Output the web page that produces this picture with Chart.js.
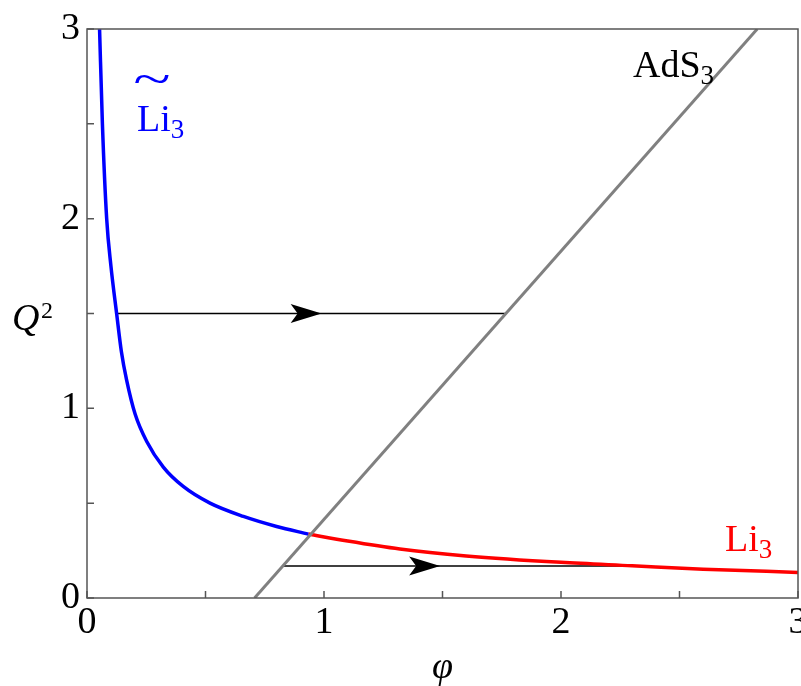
<!DOCTYPE html>
<html>
<head>
<meta charset="utf-8">
<script src="https://cdn.jsdelivr.net/npm/chart.js@4.4.1/dist/chart.umd.min.js"></script>
<style>
  html, body { margin: 0; padding: 0; background: #fff; }
  #wrap { width: 801px; height: 686px; }
</style>
</head>
<body>
<div id="wrap"><canvas id="chart" width="801" height="686"></canvas></div>
<script>
// values
var phiBlue = [0.053, 0.065, 0.083, 0.101, 0.125, 0.145, 0.167, 0.203, 0.252, 0.322, 0.406, 0.519, 0.66, 0.80, 0.934];
var q2Blue  = [3.0,   2.5,   2.0,   1.75,  1.5,   1.3,   1.15,  0.97,  0.825, 0.69,  0.588, 0.5,   0.43, 0.377, 0.337];
var phiRed  = [0.934, 1.1,  1.32,  1.6,   2.0,   2.3,  2.6,   3.0];
var q2Red   = [0.337, 0.30, 0.258, 0.222, 0.188, 0.17, 0.152, 0.135];
var phiAdS  = [0.707, 2.828];
var q2AdS   = [0, 3];
// flow arrows: start phi, end phi, Q^2, tip phi
var arrowFrom = [0.125, 0.827];
var arrowTo   = [1.768, 2.30];
var arrowQ2   = [1.5, 0.169];
var arrowTip  = [0.99, 1.49];
var xTicks = [0, 1, 2, 3];
var yTicks = [0, 1, 2, 3];

var FONT = "'Liberation Serif', serif";

function pts(xs, ys) {
    var out = [];
    for (var i = 0; i < xs.length; i++) out.push({x: xs[i], y: ys[i]});
    return out;
}

var datasets = [
    {data: pts(phiAdS, q2AdS), borderColor: '#808080', borderWidth: 3},
    {data: pts(phiBlue, q2Blue), borderColor: '#0000ff', borderWidth: 3.5, cubicInterpolationMode: 'monotone'},
    {data: pts(phiRed, q2Red), borderColor: '#ff0000', borderWidth: 3.5, cubicInterpolationMode: 'monotone'}
];
for (var i = 0; i < arrowFrom.length; i++) {
    datasets.push({data: [{x: arrowFrom[i], y: arrowQ2[i]}, {x: arrowTo[i], y: arrowQ2[i]}], borderColor: '#000', borderWidth: 1.6});
}
datasets.forEach(function (d) { d.showLine = true; d.pointRadius = 0; d.fill = false; });

function textSub(ctx, main, sub, x, y, color) {
    ctx.fillStyle = color;
    ctx.textAlign = 'left';
    ctx.textBaseline = 'alphabetic';
    ctx.font = '38px ' + FONT;
    ctx.fillText(main, x, y);
    var w = ctx.measureText(main).width;
    ctx.font = '27px ' + FONT;
    ctx.fillText(sub, x + w, y + 7);
}

var decor = {
    id: 'decor',
    afterDatasetsDraw: function (chart) {
        var ctx = chart.ctx, a = chart.chartArea;
        var xs = chart.scales.x, ys = chart.scales.y;
        ctx.save();
        // frame
        ctx.strokeStyle = '#555';
        ctx.lineWidth = 1.5;
        ctx.strokeRect(a.left, a.top, a.right - a.left, a.bottom - a.top);
        // inward ticks every 0.5
        ctx.beginPath();
        for (var v = 0; v <= 3; v += 0.5) {
            var px = xs.getPixelForValue(v);
            ctx.moveTo(px, a.bottom); ctx.lineTo(px, a.bottom - 7);
            var py = ys.getPixelForValue(v);
            ctx.moveTo(a.left, py); ctx.lineTo(a.left + 7, py);
        }
        ctx.stroke();
        // arrow heads
        ctx.fillStyle = '#000';
        for (var i = 0; i < arrowTip.length; i++) {
            var tx = xs.getPixelForValue(arrowTip[i]);
            var ty = ys.getPixelForValue(arrowQ2[i]);
            ctx.beginPath();
            ctx.moveTo(tx, ty);
            ctx.lineTo(tx - 31, ty - 9.5);
            ctx.lineTo(tx - 24, ty);
            ctx.lineTo(tx - 31, ty + 9.5);
            ctx.closePath();
            ctx.fill();
        }
        // curve labels
        textSub(ctx, 'AdS', '3', xs.getPixelForValue(2.304), ys.getPixelForValue(2.747), '#000');
        textSub(ctx, 'Li', '3', xs.getPixelForValue(2.692), ys.getPixelForValue(0.247), '#ff0000');
        var bx = xs.getPixelForValue(0.211), by = ys.getPixelForValue(2.46);
        textSub(ctx, 'Li', '3', bx, by, '#0000ff');
        ctx.save();
        ctx.translate(bx + 15, by - 49);
        ctx.scale(1.5, 1);
        ctx.font = '46px ' + FONT;
        ctx.textAlign = 'center';
        ctx.textBaseline = 'middle';
        ctx.fillText('~', 0, 0);
        ctx.restore();
        // axis titles
        ctx.fillStyle = '#000';
        ctx.font = 'italic 38px ' + FONT;
        ctx.textAlign = 'center';
        ctx.textBaseline = 'alphabetic';
        ctx.fillText('\u03c6', (a.left + a.right) / 2, 678);
        ctx.textAlign = 'left';
        ctx.fillText('Q', 12, 330);
        ctx.font = '24px ' + FONT;
        ctx.fillText('2', 41, 318);
        ctx.restore();
    }
};

function drawChart() {
    new Chart(document.getElementById('chart').getContext('2d'), {
        type: 'scatter',
        data: {datasets: datasets},
        options: {
            responsive: false,
            devicePixelRatio: 1,
            animation: false,
            layout: {padding: {top: 29, right: 3, left: 0, bottom: 0}},
            plugins: {legend: {display: false}, tooltip: {enabled: false}},
            scales: {
                x: {
                    type: 'linear', min: 0, max: 3,
                    grid: {display: false, drawTicks: false},
                    border: {display: false},
                    ticks: {
                        stepSize: 0.5, padding: 2, autoSkip: false, maxRotation: 0,
                        color: '#000', font: {family: FONT, size: 38},
                        callback: function (v) { return xTicks.indexOf(v) >= 0 ? String(v) : ''; }
                    },
                    afterFit: function (s) { s.height = 88; s.paddingLeft = 0; s.paddingRight = 0; }
                },
                y: {
                    type: 'linear', min: 0, max: 3,
                    grid: {display: false, drawTicks: false},
                    border: {display: false},
                    ticks: {
                        stepSize: 0.5, padding: 7, autoSkip: false,
                        color: '#000', font: {family: FONT, size: 38},
                        callback: function (v) { return yTicks.indexOf(v) >= 0 ? String(v) : ''; }
                    },
                    afterFit: function (s) { s.width = 87; s.paddingTop = 0; s.paddingBottom = 0; }
                }
            }
        },
        plugins: [decor]
    });
}

Promise.all([
    document.fonts.load('38px "Liberation Serif"'),
    document.fonts.load('italic 38px "Liberation Serif"')
]).then(drawChart, drawChart);
</script>
</body>
</html>
